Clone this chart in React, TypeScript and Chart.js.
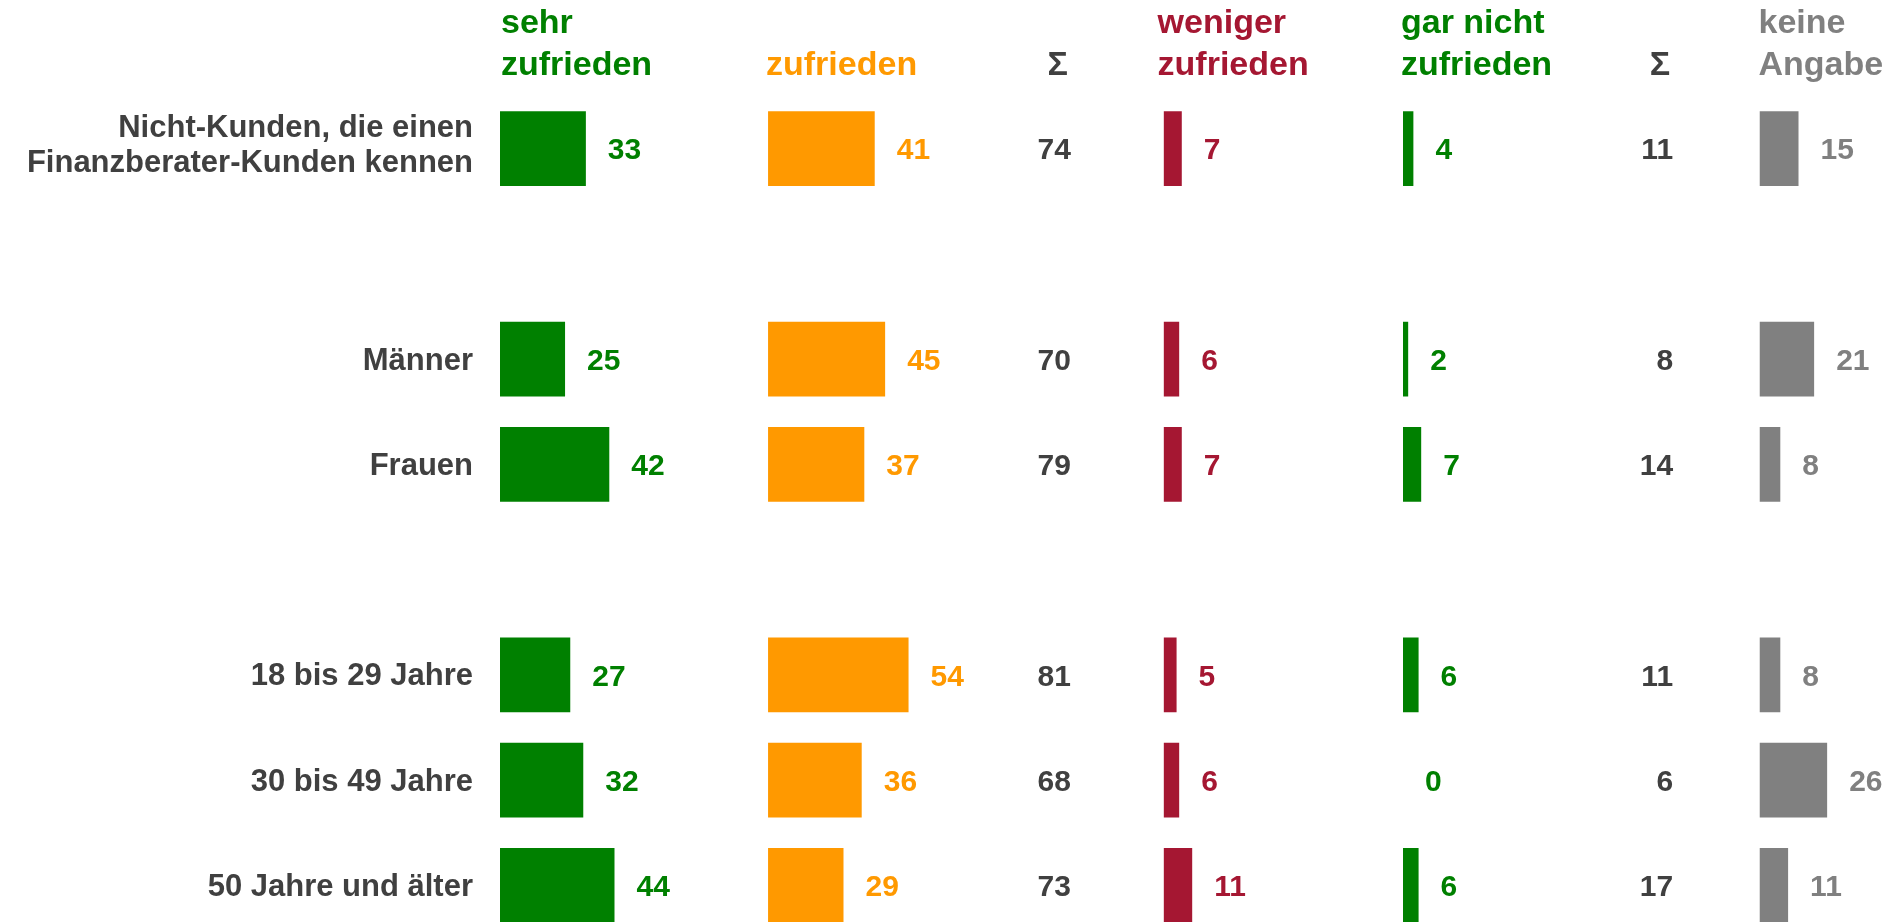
import React, { useEffect, useRef } from 'react';
import { Chart, registerables } from 'chart.js';

Chart.register(...registerables);

// ---- Data ----
const categories: (string | string[])[] = [
  ['Nicht-Kunden, die einen', 'Finanzberater-Kunden kennen'],
  '',
  'Männer',
  'Frauen',
  '',
  '18 bis 29 Jahre',
  '30 bis 49 Jahre',
  '50 Jahre und älter',
];

const sehrZufrieden = [33, null, 25, 42, null, 27, 32, 44];
const zufrieden = [41, null, 45, 37, null, 54, 36, 29];
const summeZufrieden = [74, null, 70, 79, null, 81, 68, 73];
const wenigerZufrieden = [7, null, 6, 7, null, 5, 6, 11];
const garNichtZufrieden = [4, null, 2, 7, null, 6, 0, 6];
const summeUnzufrieden = [11, null, 8, 14, null, 11, 6, 17];
const keineAngabe = [15, null, 21, 8, null, 8, 26, 11];

const headerSehr = ['sehr', 'zufrieden'];
const headerZufrieden = ['zufrieden'];
const headerSumme = ['Σ'];
const headerWeniger = ['weniger', 'zufrieden'];
const headerGarNicht = ['gar nicht', 'zufrieden'];
const headerKeine = ['keine', 'Angabe'];

// ---- Styles ----
const GREEN = '#008000';
const ORANGE = '#FF9900';
const RED = '#A51732';
const GRAY = '#808080';
const DARK = '#404040';
const FONT = '"Liberation Sans", Arial, sans-serif';

type Col = {
  id: string;
  header: string[];
  values: (number | null)[];
  color: string;
  kind: 'bar' | 'sum';
  width: number; // axis range in value units
  headerDx?: number;
  anchor?: number;
};

const columns: Col[] = [
  { id: 'x0', header: headerSehr, values: sehrZufrieden, color: GREEN, kind: 'bar', width: 103, headerDx: 1 },
  { id: 'x1', header: headerZufrieden, values: zufrieden, color: ORANGE, kind: 'bar', width: 89, headerDx: -2 },
  { id: 'x2', header: headerSumme, values: summeZufrieden, color: DARK, kind: 'sum', width: 63, anchor: 27.4 },
  { id: 'x3', header: headerWeniger, values: wenigerZufrieden, color: RED, kind: 'bar', width: 92, headerDx: -6 },
  { id: 'x4', header: headerGarNicht, values: garNichtZufrieden, color: GREEN, kind: 'bar', width: 68, headerDx: -2 },
  { id: 'x5', header: headerSumme, values: summeUnzufrieden, color: DARK, kind: 'sum', width: 69, anchor: 35.8 },
  { id: 'x6', header: headerKeine, values: keineAngabe, color: GRAY, kind: 'bar', width: 54, headerDx: -1 },
];

const textPlugin = {
  id: 'columnTexts',
  afterDatasetsDraw(chart: any) {
    const ctx = chart.ctx as CanvasRenderingContext2D;
    const yScale = chart.scales.y;
    ctx.save();

    // category labels (right-aligned, left of the bars)
    ctx.font = `bold 31px ${FONT}`;
    ctx.fillStyle = DARK;
    ctx.textAlign = 'right';
    ctx.textBaseline = 'middle';
    const lineH = 35;
    categories.forEach((cat, i) => {
      const lines = Array.isArray(cat) ? cat : [cat];
      if (lines.length === 1 && !lines[0]) return;
      const yc = yScale.getPixelForValue(i) + (lines.length > 1 ? -2.5 : 2);
      const x = yScale.right - 27;
      lines.forEach((line, li) => {
        ctx.fillText(line, x, yc + (li - (lines.length - 1) / 2) * lineH);
      });
    });

    columns.forEach((col) => {
      const xs = chart.scales[col.id];
      // header
      ctx.font = `bold 34px ${FONT}`;
      ctx.fillStyle = col.color;
      ctx.textBaseline = 'alphabetic';
      const baselines = col.header.length === 2 ? [33, 75] : [75];
      let hx: number;
      if (col.kind === 'bar') {
        ctx.textAlign = 'left';
        hx = xs.left + (col.headerDx || 0);
      } else {
        ctx.textAlign = 'right';
        hx = xs.getPixelForValue(col.anchor) - 3;
      }
      col.header.forEach((line, li) => ctx.fillText(line, hx, baselines[li]));

      // value labels
      ctx.font = `bold 30px ${FONT}`;
      ctx.textBaseline = 'middle';
      col.values.forEach((v, i) => {
        if (v === null || v === undefined) return;
        const y = yScale.getPixelForValue(i) + 2.5;
        if (col.kind === 'bar') {
          ctx.textAlign = 'left';
          ctx.fillText(String(v), xs.getPixelForValue(v) + 22, y);
        } else {
          ctx.textAlign = 'right';
          ctx.fillText(String(v), xs.getPixelForValue(col.anchor), y);
        }
      });
    });
    ctx.restore();
  },
};

export default function App() {
  const canvasRef = useRef<HTMLCanvasElement | null>(null);

  useEffect(() => {
    if (!canvasRef.current) return;
    const scales: any = {
      y: {
        type: 'category',
        offset: true,
        grid: { display: false, drawTicks: false },
        border: { display: false },
        ticks: { display: false, autoSkip: false },
        afterFit(scale: any) {
          scale.width = 500;
          scale.paddingTop = 0;
          scale.paddingBottom = 0;
        },
      },
    };
    columns.forEach((col) => {
      scales[col.id] = {
        type: 'linear',
        axis: 'x',
        position: 'bottom',
        stack: 'columns',
        stackWeight: col.width,
        min: 0,
        max: col.width,
        display: false,
        grid: { display: false },
      };
    });

    const datasets = columns
      .filter((c) => c.kind === 'bar')
      .map((col) => ({
        label: col.header.join(' '),
        data: col.values,
        xAxisID: col.id,
        yAxisID: 'y',
        backgroundColor: col.color,
        borderWidth: 0,
        grouped: false,
        barPercentage: 0.71,
        categoryPercentage: 1,
      }));

    const chart = new Chart(canvasRef.current, {
      type: 'bar',
      data: { labels: categories as any, datasets: datasets as any },
      options: {
        indexAxis: 'y',
        animation: false,
        responsive: true,
        maintainAspectRatio: false,
        layout: { padding: { top: 96, left: 0, right: 0, bottom: 0 } },
        plugins: {
          legend: { display: false },
          tooltip: { enabled: false },
          title: { display: false },
        },
        scales,
      } as any,
      plugins: [textPlugin],
    });
    return () => chart.destroy();
  }, []);

  return (
    <div
      style={{
        position: 'fixed',
        left: 0,
        top: 0,
        width: 1900,
        height: 922,
        overflow: 'hidden',
        background: '#fff',
      }}
    >
      <div style={{ position: 'relative', width: 1900, height: 938 }}>
        <canvas ref={canvasRef} />
      </div>
    </div>
  );
}
